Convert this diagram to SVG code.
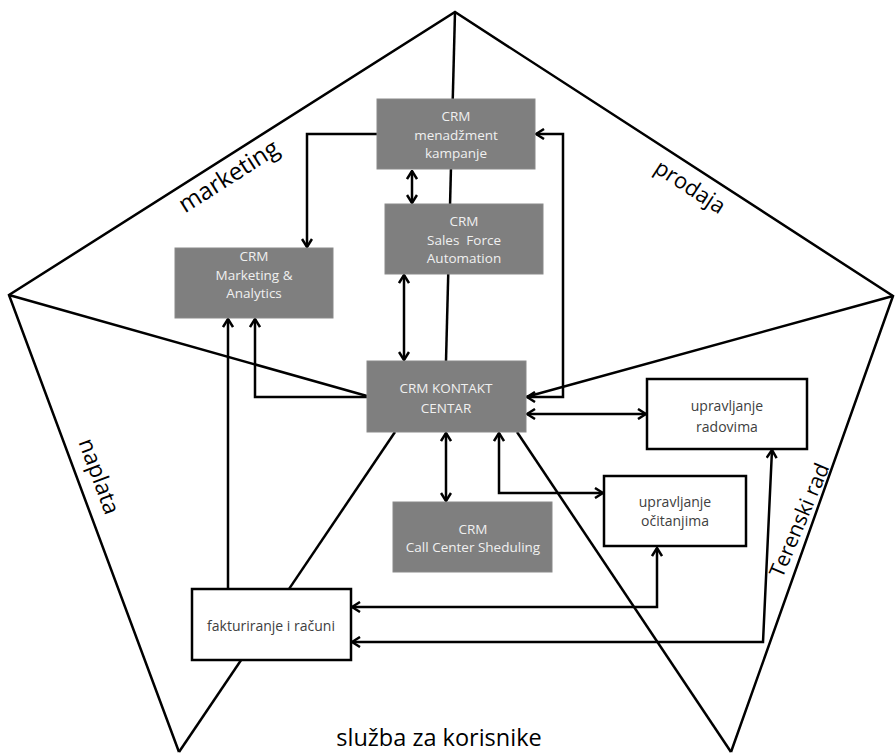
<svg xmlns="http://www.w3.org/2000/svg" width="895" height="754" viewBox="0 0 895 754">
<style>
.edge{fill:none;stroke:#000;stroke-width:2.5;stroke-linejoin:miter}
.con{fill:none;stroke:#000;stroke-width:2.5}
.gbox{fill:#7f7f7f;stroke:#8a8a8a;stroke-width:1}
.wbox{fill:#fff;stroke:#000;stroke-width:2.5}
.gt{font-family:"Open Sans","Liberation Sans",sans-serif;font-size:13.5px;fill:#f0f0f0;text-anchor:middle}
.wt{font-family:"Open Sans","Liberation Sans",sans-serif;font-size:14px;fill:#404040;text-anchor:middle}
.lbl{font-family:"Open Sans","Liberation Sans",sans-serif;font-size:23px;fill:#000;text-anchor:middle}
</style>
<defs>
<marker id="ah" viewBox="0 0 10 12" refX="9" refY="6" markerWidth="10" markerHeight="12" markerUnits="userSpaceOnUse" orient="auto-start-reverse">
<path d="M1,1 L9,6 L1,11" fill="none" stroke="#000" stroke-width="2.5"/>
</marker>
</defs>
<rect width="895" height="754" fill="#fff"/>
<g id="pentagon">
<polyline class="edge" points="179,752 9,295 455,12 893,296 731,752"/>
<line class="edge" x1="455" y1="12" x2="446" y2="361"/>
<line class="edge" x1="9" y1="295" x2="367" y2="396"/>
<line class="edge" x1="893" y1="296" x2="526" y2="397"/>
<line class="edge" x1="179" y1="752" x2="395" y2="432"/>
<line class="edge" x1="731" y1="752" x2="517" y2="432"/>
</g>
<g id="labels">
<text class="lbl" style="font-size:24px" transform="translate(233,183) rotate(-32.5)">marketing</text>
<text class="lbl" style="font-size:22px" transform="translate(686,193) rotate(33)">prodaja</text>
<text class="lbl" style="font-size:22.5px" transform="translate(92,479) rotate(69.6)">naplata</text>
<text class="lbl" style="font-size:21px" transform="translate(806,523) rotate(-67)">Terenski rad</text>
<text class="lbl" style="font-size:23.5px" x="439" y="746">služba za korisnike</text>
</g>
<g id="connectors">
<polyline class="con" points="377,134 307,134 307,247" marker-end="url(#ah)"/>
<line class="con" x1="412" y1="171" x2="412" y2="203" marker-start="url(#ah)" marker-end="url(#ah)"/>
<line class="con" x1="404" y1="275" x2="404" y2="360" marker-start="url(#ah)" marker-end="url(#ah)"/>
<polyline class="con" points="527,397 563,397 563,134 536,134" marker-start="url(#ah)" marker-end="url(#ah)"/>
<line class="con" x1="527" y1="414" x2="646" y2="414" marker-start="url(#ah)" marker-end="url(#ah)"/>
<polyline class="con" points="367,397 255,397 255,319" marker-end="url(#ah)"/>
<line class="con" x1="228" y1="589" x2="228" y2="319" marker-end="url(#ah)"/>
<line class="con" x1="446" y1="433" x2="446" y2="501" marker-start="url(#ah)" marker-end="url(#ah)"/>
<polyline class="con" points="499,433 499,493 603,493" marker-start="url(#ah)" marker-end="url(#ah)"/>
<polyline class="con" points="657,548 657,607 352,607" marker-start="url(#ah)" marker-end="url(#ah)"/>
<polyline class="con" points="772,450 763,642 352,642" marker-start="url(#ah)" marker-end="url(#ah)"/>
</g>
<g id="menadzment">
<rect class="gbox" x="377" y="99" width="158" height="70"/>
<text class="gt" x="456" y="121">CRM</text>
<text class="gt" x="456" y="140">menadžment</text>
<text class="gt" x="456" y="158">kampanje</text>
</g>
<g id="salesforce">
<rect class="gbox" x="385" y="204" width="158" height="70"/>
<text class="gt" x="464" y="226">CRM</text>
<text class="gt" x="464" y="245" xml:space="preserve">Sales  Force</text>
<text class="gt" x="464" y="263">Automation</text>
</g>
<g id="marketinganalytics">
<rect class="gbox" x="175" y="248" width="158" height="70"/>
<text class="gt" x="254" y="261">CRM</text>
<text class="gt" x="254" y="280">Marketing &amp;</text>
<text class="gt" x="254" y="298">Analytics</text>
</g>
<g id="kontaktcentar">
<rect class="gbox" x="367" y="361" width="159" height="71"/>
<text class="gt" x="446" y="393">CRM KONTAKT</text>
<text class="gt" x="446" y="413">CENTAR</text>
</g>
<g id="callcenter">
<rect class="gbox" x="393" y="502" width="159" height="70"/>
<text class="gt" x="473" y="534">CRM</text>
<text class="gt" x="473" y="552">Call Center Sheduling</text>
</g>
<g id="radovima">
<rect class="wbox" x="647" y="379" width="160" height="70"/>
<text class="wt" x="727" y="411">upravljanje</text>
<text class="wt" x="727" y="432">radovima</text>
</g>
<g id="ocitanjima">
<rect class="wbox" x="604" y="476" width="142" height="70"/>
<text class="wt" x="675" y="507">upravljanje</text>
<text class="wt" x="675" y="526">očitanjima</text>
</g>
<g id="fakturiranje">
<rect class="wbox" x="192" y="589" width="159" height="71"/>
<text class="wt" x="271" y="631">fakturiranje i računi</text>
</g>
</svg>
